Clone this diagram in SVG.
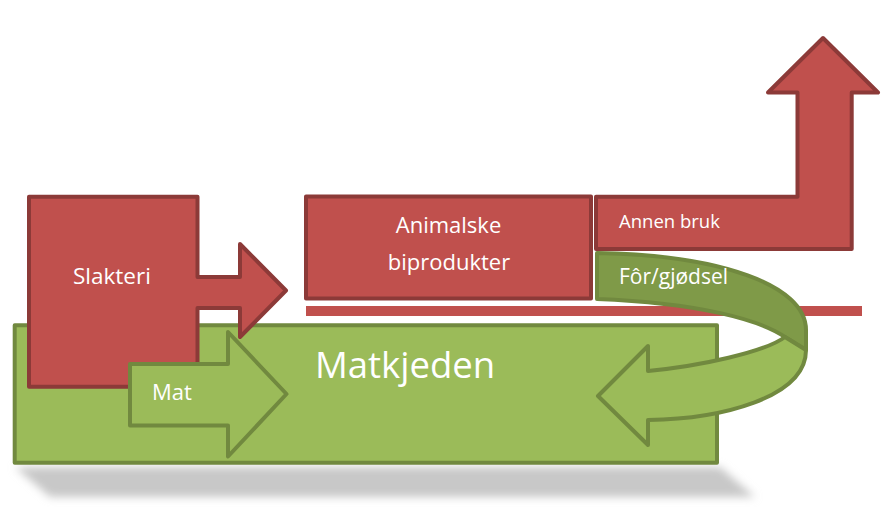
<svg xmlns="http://www.w3.org/2000/svg" width="887" height="508" viewBox="0 0 887 508">
  <defs>
    <filter id="blur" x="-10%" y="-50%" width="120%" height="200%">
      <feGaussianBlur stdDeviation="4"/>
    </filter>
    <style>
      .red { fill: #C0504D; stroke: #8C3A38; stroke-width: 4; stroke-linejoin: round; }
      .green { fill: #9BBB59; stroke: #71893F; stroke-width: 4; stroke-linejoin: round; }
      .dark { fill: #7F9A48; stroke: #71893F; stroke-width: 4; stroke-linejoin: round; }
      .lbl { fill: #FFFFFF; font-family: "Open Sans", "Liberation Sans", sans-serif; }
    </style>
  </defs>
  <rect width="887" height="508" fill="#FFFFFF"/>

  <!-- shadow under Matkjeden -->
  <polygon points="15,467 720,467 755,497 50,497" fill="#C8C8C8" filter="url(#blur)"/>

  <g id="matkjeden">
    <rect class="green" x="14.7" y="325.3" width="702.3" height="137.4"/>
    <text class="lbl" x="405" y="378" font-size="36.5" text-anchor="middle">Matkjeden</text>
  </g>

  <g id="skillelinje">
    <rect x="306" y="306" width="556" height="10" fill="#C0504D"/>
  </g>

  <g id="animalske">
    <rect class="red" x="306" y="196.5" width="285" height="102"/>
    <text class="lbl" x="448.5" y="233" font-size="22" text-anchor="middle">Animalske</text>
    <text class="lbl" x="449" y="270" font-size="22" text-anchor="middle">biprodukter</text>
  </g>

  <g id="connectors">
    <g id="annen-bruk">
      <polygon class="red" points="596,196.7 797.5,196.7 797.5,92.5 768,92.5 823,38 878,92.5 851.7,92.5 851.7,249 596,249"/>
      <text class="lbl" x="619" y="228" font-size="18.5">Annen bruk</text>
    </g>
    <g id="for-gjodsel">
      <path class="dark" d="M597,253 C720,255 806,285 806,330 L806,350 L785,337 C760,320 700,303 597,299 Z"/>
      <path class="green" d="M648,371 C700,366 765,352 785,337 L806,350 C806,398 720,419 648,420 L648,445 L598,396 L648,346 Z"/>
      <text class="lbl" x="619" y="284" font-size="21">Fôr/gjødsel</text>
    </g>
  </g>

  <g id="slakteri">
    <polygon class="red" points="29,196.7 197.5,196.7 197.5,277 240,277 240,244 286,290.5 240,337 240,308 197.5,308 197.5,386.7 29,386.7"/>
    <text class="lbl" x="73" y="284" font-size="22.5">Slakteri</text>
  </g>

  <g id="mat">
    <polygon class="green" points="130,364 228,364 228,332 286.5,394 228,456.5 228,425.5 130,425.5"/>
    <text class="lbl" x="152" y="400" font-size="22">Mat</text>
  </g>
</svg>
